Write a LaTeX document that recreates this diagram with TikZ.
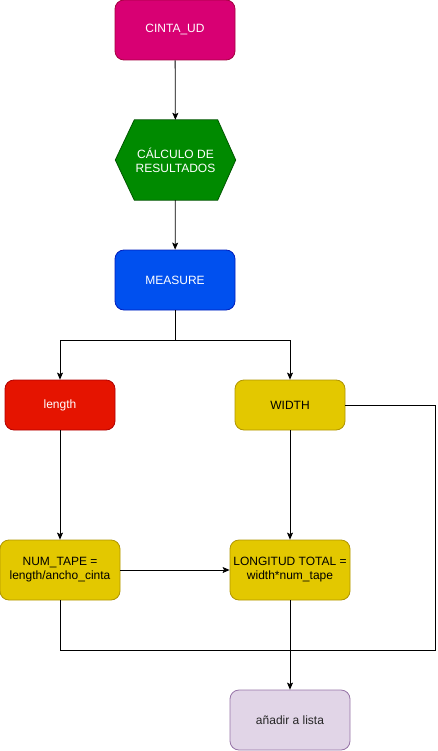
\documentclass[tikz,border=0pt]{standalone}
\usepackage{fontspec}
\setmainfont{Liberation Sans}
\usetikzlibrary{arrows.meta,backgrounds}
\definecolor{pinkfill}{HTML}{D80073}\definecolor{pinkdraw}{HTML}{A50040}
\definecolor{greenfill}{HTML}{008A00}\definecolor{greendraw}{HTML}{005700}
\definecolor{bluefill}{HTML}{0050EF}\definecolor{bluedraw}{HTML}{001DBC}
\definecolor{redfill}{HTML}{E51400}\definecolor{reddraw}{HTML}{B20000}
\definecolor{yellowfill}{HTML}{E3C800}\definecolor{yellowdraw}{HTML}{B09500}
\definecolor{purplefill}{HTML}{E1D5E7}\definecolor{purpledraw}{HTML}{9673A6}
\tikzset{
  box/.style={draw, line width=0.8pt, rounded corners=9pt, minimum width=120pt, minimum height=60pt, inner sep=0pt, align=center, font=\fontsize{12pt}{14pt}\selectfont},
  smallbox/.style={box, minimum width=110pt, minimum height=50pt},
  pinkbox/.style={fill=pinkfill, draw=pinkdraw, text=white},
  bluebox/.style={fill=bluefill, draw=bluedraw, text=white},
  redbox/.style={fill=redfill, draw=reddraw, text=white},
  yellowbox/.style={fill=yellowfill, draw=yellowdraw, text=black},
  purplebox/.style={fill=purplefill, draw=purpledraw, text=black!85},
  conn/.style={line width=0.8pt, draw=black},
  arr/.style={conn, -{Stealth[length=7pt,width=6pt,inset=1.5pt]}}
}
\begin{document}
\begin{tikzpicture}[x=1pt,y=-1pt]
\useasboundingbox (0,0) rectangle (437,751);
\node[box, pinkbox] (cinta) at (175,30) {CINTA\_UD};
\node[minimum width=120pt, minimum height=80pt, inner sep=0pt, align=center, text=white, font=\fontsize{12pt}{14pt}\selectfont] (hex) at (175.5,160) {CÁLCULO DE\\RESULTADOS};
\begin{scope}[on background layer]
\filldraw[fill=greenfill, draw=greendraw, line width=0.8pt] (hex.west) -- ([xshift=19pt]hex.north west) -- ([xshift=-18pt]hex.north east) -- (hex.east) -- ([xshift=-18pt]hex.south east) -- ([xshift=19pt]hex.south west) -- cycle;
\end{scope}
\node[box, bluebox] (measure) at (175,280) {MEASURE};
\node[smallbox, redbox] (len) at (60,405) {length};
\node[smallbox, yellowbox] (wid) at (290,405) {WIDTH};
\node[box, yellowbox] (num) at (60,570) {NUM\_TAPE =\\length/ancho\_cinta};
\node[box, yellowbox] (lon) at (290,570) {LONGITUD TOTAL =\\width*num\_tape};
\node[box, purplebox] (add) at (290,720) {añadir a lista};
\coordinate (split) at (175,340);
\coordinate (join) at (290,650);
\coordinate (rightc) at (435,650);
\draw[arr] (cinta) -- (hex);
\draw[arr] (hex) -- (measure);
\draw[arr] (measure.south) -- (split) -| (len.north);
\draw[arr] (split) -| (wid.north);
\draw[arr] (len) -- (num);
\draw[arr] (wid) -- (lon);
\draw[arr] (num) -- (lon);
\draw[conn] (num.south) |- (join);
\draw[conn] (wid.east) -| (rightc) -- (join);
\draw[arr] (lon.south) -- (add.north);
\end{tikzpicture}
\end{document}
